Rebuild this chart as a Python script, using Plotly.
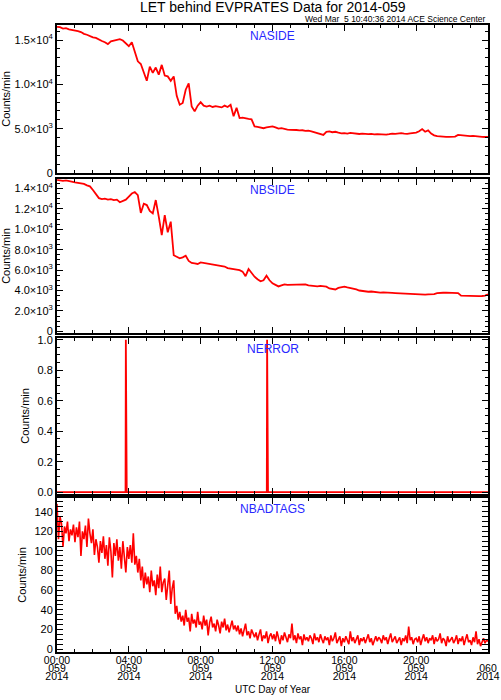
import plotly.graph_objects as go
from plotly.subplots import make_subplots

# minutes after 00:00 UTC, day 059
minutes_10 = list(range(0, 1441, 10))
minutes_5 = list(range(0, 1441, 5))
minutes_1 = list(range(0, 1441))

naside = [
    16500, 16450, 16300, 16350, 16200, 16150,
    16050, 16000, 15900, 15700, 15600, 15450,
    15300, 15250, 15050, 14900, 14750, 14550,
    14850, 14950, 15050, 15100, 14950, 14600,
    14300, 14750, 13800, 12600, 12300, 11400,
    10400, 12000, 11300, 11900, 11100, 12200,
    11000, 10900, 10400, 10900, 8700, 7700,
    7900, 9400, 10100, 7500, 6950, 7600,
    8000, 7600, 7500, 7600, 7450, 7550,
    7500, 7400, 7600, 7450, 7700, 6400,
    7350, 6200, 6250, 6150, 6100, 6050,
    5250, 5200, 5100, 5050, 5150, 5200,
    5250, 5150, 5000, 5050, 4950, 4900,
    4870, 4900, 4850, 4800, 4820, 4750,
    4780, 4700, 4600, 4500, 4400, 4300,
    4650, 4700, 4600, 4650, 4550, 4480,
    4500, 4450, 4520, 4480, 4420, 4400,
    4450, 4400, 4380, 4420, 4350, 4380,
    4350, 4300, 4320, 4380, 4450, 4420,
    4480, 4500, 4450, 4420, 4480, 4500,
    4550, 4700, 4950, 4650, 4800, 4450,
    4250, 4150, 4100, 4050, 4070, 4080,
    4050, 4100, 4300, 4250, 4200, 4230,
    4150, 4180, 4120, 4100, 4080, 4060,
    4070,
]

nbside = [
    14850, 14800, 14750, 14780, 14700, 14650,
    14600, 14550, 14500, 14450, 14300, 14200,
    13850, 13500, 13050, 12950, 13000, 12900,
    12950, 12850, 12900, 12650, 12800, 12900,
    13200, 13500, 13650, 13350, 11600, 12500,
    12370, 11800, 11550, 12860, 11230, 9430,
    11390, 9700, 10740, 7450, 7300, 7150,
    7250, 7400, 6900, 6700, 6650, 6600,
    6750, 6700, 6650, 6550, 6500, 6450,
    6450, 6400, 6350, 6200, 6150, 6100,
    6050, 6000, 5850, 5400, 6100, 5700,
    5350, 5100, 4900, 5000, 5450, 5000,
    4700, 4550, 4400, 4500, 4600, 4550,
    4550, 4600, 4620, 4580, 4560, 4600,
    4500, 4450, 4420, 4400, 4450, 4430,
    4380, 4200, 4150, 4100, 4250, 4350,
    4380, 4300, 4250, 4200, 4100, 4000,
    3950, 3900, 3880, 3900, 3850, 3830,
    3800, 3820, 3780, 3800, 3760, 3740,
    3720, 3700, 3680, 3660, 3650, 3640,
    3650, 3620, 3630, 3600, 3620, 3610,
    3650, 3750, 3800, 3780, 3800, 3790,
    3780, 3800, 3750, 3500, 3480, 3470,
    3460, 3450, 3470, 3440, 3460, 3500,
    3620,
]

# minutes with one error count
error_minutes = [230, 702]
error_counts = [1, 1]

nbadtags = [
    148, 112, 135, 128, 104, 125, 118, 130, 110, 122, 116, 127,
    109, 124, 114, 130, 95, 120, 112, 126, 104, 133, 118, 108,
    122, 96, 112, 104, 88, 110, 98, 115, 92, 106, 85, 114,
    100, 73, 108, 95, 112, 90, 104, 82, 110, 97, 78, 104,
    92, 106, 88, 118, 86, 95, 78, 92, 70, 84, 62, 78,
    66, 74, 58, 80, 64, 70, 55, 76, 62, 84, 58, 68,
    72, 50, 66, 80, 46, 62, 70, 36, 44, 30, 38, 28,
    34, 24, 40, 28, 32, 18, 36, 26, 30, 22, 38, 25,
    28, 20, 34, 24, 30, 14, 27, 33, 22, 26, 18, 30,
    24, 16, 28, 22, 31, 19, 25, 17, 23, 29, 20, 24,
    18, 24, 15, 21, 13, 19, 26, 14, 18, 11, 20, 16,
    12, 17, 9, 15, 20, 8, 14, 11, 18, 6, 13, 16,
    10, 15, 8, 18, 11, 5, 14, 9, 17, 12, 7, 15,
    11, 26, 9, 14, 6, 16, 10, 13, 4, 15, 9, 12,
    8, 14, 11, 5, 16, 9, 12, 7, 15, 10, 6, 13,
    9, 12, 4, 14, 8, 11, 17, 6, 10, 13, 3, 11,
    7, 13, 9, 5, 18, 8, 12, 6, 10, 14, 4, 11,
    8, 12, 6, 10, 15, 7, 11, 4, 9, 13, 8, 12,
    10, 6, 14, 9, 12, 5, 11, 16, 7, 10, 13, 6,
    9, 12, 4, 11, 8, 14, 6, 23, 9, 12, 5, 10,
    11, 7, 13, 4, 10, 15, 8, 12, 6, 11, 9, 14,
    5, 12, 8, 10, 16, 6, 11, 9, 3, 13, 7, 10,
    12, 6, 9, 14, 5, 11, 8, 13, 4, 10, 15, 7,
    9, 4, 12, 7, 18, 5, 10, 3, 8, 11, 6, 9,
    8,
]

nerror = [0] * len(minutes_1)
for m, c in zip(error_minutes, error_counts):
    nerror[m] = c

x_tickvals = [0, 240, 480, 720, 960, 1200, 1440]
x_time_text = ["00:00", "04:00", "08:00", "12:00", "16:00", "20:00", "00:00"]
x_day_text = ["059", "059", "059", "059", "059", "059", "060"]
x_year_text = ["2014", "2014", "2014", "2014", "2014", "2014", "2014"]

ya_tickvals = [0, 5000, 10000, 15000]
ya_ticktext = ["0", "5.0×10<sup>3</sup>", "1.0×10<sup>4</sup>", "1.5×10<sup>4</sup>"]
yb_tickvals = [0, 2000, 4000, 6000, 8000, 10000, 12000, 14000]
yb_ticktext = ["0", "2.0×10<sup>3</sup>", "4.0×10<sup>3</sup>", "6.0×10<sup>3</sup>",
               "8.0×10<sup>3</sup>", "1.0×10<sup>4</sup>", "1.2×10<sup>4</sup>", "1.4×10<sup>4</sup>"]
ye_tickvals = [0, 0.2, 0.4, 0.6, 0.8, 1.0]
ye_ticktext = ["0.0", "0.2", "0.4", "0.6", "0.8", "1.0"]
yt_tickvals = [0, 20, 40, 60, 80, 100, 120, 140]
yt_ticktext = ["0", "20", "40", "60", "80", "100", "120", "140"]

panels = ["NASIDE", "NBSIDE", "NERROR", "NBADTAGS"]

fig = make_subplots(rows=4, cols=1, shared_xaxes=True)

red = "#ff0000"
fig.add_trace(go.Scatter(x=minutes_10, y=naside, mode="lines", line=dict(color=red, width=1.8)), row=1, col=1)
fig.add_trace(go.Scatter(x=minutes_10, y=nbside, mode="lines", line=dict(color=red, width=1.8)), row=2, col=1)
fig.add_trace(go.Scatter(x=minutes_1, y=nerror, mode="lines", line=dict(color=red, width=1.8)), row=3, col=1)
fig.add_trace(go.Scatter(x=minutes_5, y=nbadtags, mode="lines", line=dict(color=red, width=1.6)), row=4, col=1)

font = "Liberation Sans, Arial, sans-serif"
axis_style = dict(showline=True, linecolor="black", linewidth=2, mirror="allticks",
                  ticks="inside", ticklen=6, tickwidth=1.3, tickcolor="black",
                  showgrid=False, zeroline=False, automargin=False)

domains = [(0.764, 1.0), (0.509, 0.754), (0.252, 0.501), (0.0, 0.2456)]
yranges = [(0, 16700), (-150, 14900), (-0.012, 1.012), (-3, 154)]
yticks = [(ya_tickvals, ya_ticktext, 1000), (yb_tickvals, yb_ticktext, 500),
          (ye_tickvals, ye_ticktext, 0.05), (yt_tickvals, yt_ticktext, 5)]

for i in range(4):
    fig.update_yaxes(row=i + 1, col=1, domain=list(domains[i]), range=list(yranges[i]),
                     tickmode="array", tickvals=yticks[i][0], ticktext=yticks[i][1],
                     tickfont=dict(size=11, color="black"),
                     minor=dict(ticks="inside", dtick=yticks[i][2], ticklen=3, tickcolor="black"),
                     title=dict(text="Counts/min", font=dict(size=11, color="black"), standoff=6),
                     **axis_style)
    fig.update_xaxes(row=i + 1, col=1, range=[0, 1440], tickmode="array",
                     tickvals=x_tickvals, ticktext=x_time_text, showticklabels=(i == 3),
                     tickfont=dict(size=10.5, color="black"), ticklabelstandoff=-3,
                     minor=dict(ticks="inside", dtick=60, ticklen=3, tickcolor="black"),
                     **axis_style)
    fig.add_annotation(text=panels[i], xref="paper", x=0.5, yref="paper", y=domains[i][1],
                       yanchor="top", yshift=-2, showarrow=False,
                       font=dict(size=12, color="rgb(40,40,255)"))

# second and third lines of the time tick labels
label_axis = dict(overlaying="x4", anchor="y4", range=[0, 1440], tickmode="array",
                  tickvals=x_tickvals, ticks="", showline=False, showgrid=False,
                  zeroline=False, automargin=False, tickfont=dict(size=10.5, color="black"))
fig.update_layout(xaxis5=dict(ticktext=x_day_text, ticklabelstandoff=8, **label_axis),
                  xaxis6=dict(ticktext=x_year_text, ticklabelstandoff=16, **label_axis))
fig.add_trace(go.Scatter(x=[], y=[], xaxis="x5", yaxis="y4", showlegend=False))
fig.add_trace(go.Scatter(x=[], y=[], xaxis="x6", yaxis="y4", showlegend=False))

fig.add_annotation(text="LET behind EVPRATES Data for 2014-059", xref="paper", x=0.5,
                   yref="paper", y=1.0287, yanchor="middle", showarrow=False,
                   font=dict(size=14, color="black"))
fig.add_annotation(text="Wed Mar&nbsp;&nbsp;5 10:40:36 2014 ACE Science Center", xref="paper", x=1.0,
                   xanchor="right", yref="paper", y=1.0, yanchor="bottom", yshift=-1,
                   showarrow=False, font=dict(size=8.5, color="black"))
fig.add_annotation(text="UTC Day of Year", xref="paper", x=0.5, yref="paper", y=-0.0606,
                   yanchor="middle", showarrow=False, font=dict(size=10, color="black"))

fig.update_layout(width=501, height=700, showlegend=False,
                  margin=dict(l=57, r=13, t=25, b=48),
                  paper_bgcolor="white", plot_bgcolor="white",
                  font=dict(family=font, color="black"))

# page body has an 8px default margin; drop it so the figure sits at the corner
fig.write_html("out.html", config={"displayModeBar": False},
               post_script="document.body.style.margin='0';")
